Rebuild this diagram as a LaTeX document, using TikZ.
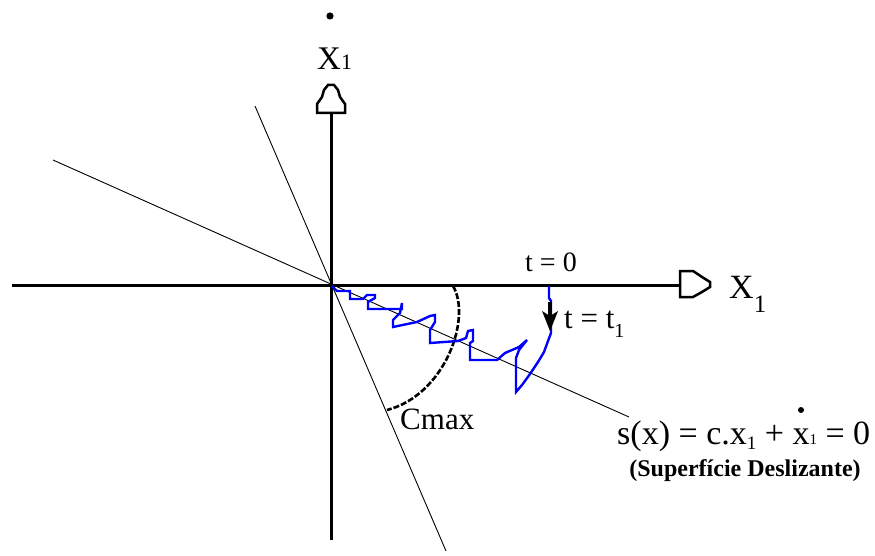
\documentclass[tikz,border=0pt]{standalone}
\usepackage{fontspec}
\setmainfont{Liberation Serif}
\newcommand{\fs}[1]{\fontsize{#1}{#1}\selectfont}
\begin{document}
\begin{tikzpicture}[x=1pt,y=-1pt,
  axisline/.style={line width=3pt},
  thinline/.style={line width=0.9pt},
  traj/.style={draw=blue, line width=2.4pt, line join=miter, miter limit=4},
  hollowtip/.style={draw, fill=white, line width=2.5pt, line join=miter},
  cmaxarc/.style={line width=2.6pt, dash pattern=on 6pt off 2pt},
  lbl/.style={inner sep=0pt, anchor=base west}]
\useasboundingbox (0,0) rectangle (875,556);
% coordinates
\coordinate (O) at (331,285);
\coordinate (hL) at (12,285);
\coordinate (hR) at (681,285);
\coordinate (vT) at (331,112);
\coordinate (vB) at (331,540);
\coordinate (sA) at (255,106);
\coordinate (sB) at (446,551);
\coordinate (dA) at (53,160);
\coordinate (dB) at (629,417);
% thin lines
\draw[thinline] (sA) -- (sB);
\draw[thinline] (dA) -- (dB);
% axes
\draw[axisline] (hL) -- (hR);
\draw[axisline] (vB) -- (vT);
% hollow arrow heads
\draw[hollowtip] (317,113) -- (345,113) -- (345,104) -- (340,97) -- (338,90) -- (334,85) -- (328,85) -- (324,90) -- (322,97) -- (317,104) -- cycle;
\draw[hollowtip] (680,271) -- (693,271) -- (702,277) -- (710,282) -- (710,287) -- (702,292) -- (693,297) -- (680,297) -- cycle;
% Cmax arc
\draw[cmaxarc] (453,286) .. controls (472,318) and (445,395) .. (387,410);
% trajectory
\draw[traj] (549,286) -- (549,298) -- (551,301) -- (551,333) -- (548,341) -- (544,352) -- (538,362)
  -- (530,374) -- (522,385) -- (516,392) -- (516,358) -- (519,350) -- (527,340) -- (519,347)
  -- (505,353) -- (497,360) -- (470,360) -- (470,343) -- (473,341) -- (473,330) -- (468,331)
  -- (466,338) -- (458,341) -- (430,343) -- (430,330) -- (435,322) -- (435,315) -- (430,316)
  -- (417,322) -- (393,327) -- (393,320) -- (400,313) -- (402,303) -- (402,309) -- (368,309)
  -- (368,302) -- (375,298) -- (375,295) -- (367,295) -- (363,299) -- (350,299) -- (350,291)
  -- (337,291) -- (332,286);
% black direction arrow
\draw[line width=4pt] (550,302) -- (550,318);
\fill (542,311) -- (550,316) -- (558,311) -- (550,331) -- cycle;
% labels
\node[lbl] (xdot) at (317,70) {\fs{33}X\fs{22}1};
\fill (330,16) circle (3.6);
\node[lbl] (xone) at (729,298) {\fs{34}X\raisebox{-14pt}{\fs{25}1}};
\node[lbl] (tzero) at (525,271) {\fs{28}t = 0};
\node[lbl] (tone) at (564,328) {\fs{31}t = t\raisebox{-9pt}{\fs{20}1}};
\node[lbl] (cmax) at (400,429) {\fs{31}Cmax};
\node[lbl] (eq) at (617,444) {\fs{34}s(x) = c.x\raisebox{-5pt}{\fs{19}1} + x\fs{15}1\fs{34} = 0};
\fill (801,410) circle (3);
\node[inner sep=0pt, anchor=base] (surf) at (745,476) {\fs{24}\bfseries (Superfície Deslizante)};
\end{tikzpicture}
\end{document}
